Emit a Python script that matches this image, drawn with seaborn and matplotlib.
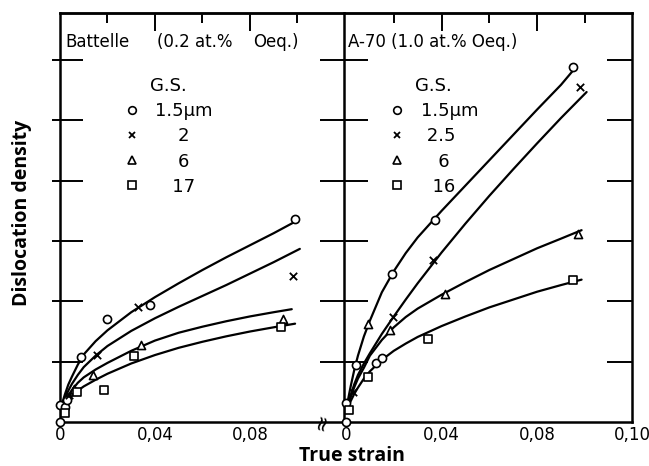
import numpy as np
import pandas as pd
import matplotlib
matplotlib.use("Agg")
import matplotlib.pyplot as plt
import seaborn as sns
from matplotlib.ticker import FixedLocator
from matplotlib.lines import Line2D

# ---- values ----
MARKERS = ["o", "x", "^", "s"]

# left panel: Battelle (0.2 at.% Oeq.)
bat_labels = ["1.5µm", "2", "6", "17"]
bat_pts_x = [
    [0.0, 0.0, 0.002, 0.003, 0.009, 0.020, 0.038, 0.099],
    [0.004, 0.0154, 0.033, 0.098],
    [0.006, 0.014, 0.034, 0.094],
    [0.002, 0.007, 0.0185, 0.031, 0.093],
]
bat_pts_y = [
    [0.0, 0.28, 0.25, 0.37, 1.08, 1.70, 1.94, 3.36],
    [0.45, 1.11, 1.91, 2.42],
    [0.55, 0.78, 1.28, 1.70],
    [0.15, 0.50, 0.53, 1.09, 1.57],
]
# fitted curves
bat_fit_x = [
    [0, 0.001, 0.002, 0.0035, 0.005, 0.0075, 0.01, 0.015, 0.02, 0.03, 0.04, 0.05, 0.06, 0.07, 0.08, 0.09, 0.0985],
    [0, 0.001, 0.002, 0.0035, 0.005, 0.0075, 0.01, 0.015, 0.02, 0.03, 0.04, 0.05, 0.06, 0.07, 0.08, 0.09, 0.101],
    [0, 0.001, 0.002, 0.0035, 0.005, 0.0075, 0.01, 0.015, 0.02, 0.03, 0.04, 0.05, 0.06, 0.07, 0.08, 0.09, 0.0976],
    [0, 0.001, 0.002, 0.0035, 0.005, 0.0075, 0.01, 0.015, 0.02, 0.03, 0.04, 0.05, 0.06, 0.07, 0.08, 0.09, 0.099],
]
bat_fit_y = [
    [0.12, 0.32, 0.45, 0.62, 0.75, 0.95, 1.12, 1.34, 1.52, 1.82, 2.07, 2.30, 2.52, 2.73, 2.93, 3.13, 3.31],
    [0.12, 0.27, 0.38, 0.52, 0.63, 0.78, 0.91, 1.10, 1.26, 1.51, 1.72, 1.91, 2.09, 2.27, 2.46, 2.65, 2.87],
    [0.12, 0.24, 0.33, 0.44, 0.53, 0.65, 0.74, 0.87, 0.98, 1.18, 1.35, 1.48, 1.58, 1.67, 1.75, 1.82, 1.87],
    [0.12, 0.21, 0.28, 0.36, 0.43, 0.52, 0.59, 0.70, 0.80, 0.97, 1.11, 1.23, 1.33, 1.42, 1.50, 1.57, 1.63],
]

# right panel: A-70 (1.0 at.% Oeq.)
a70_labels = ["1.5µm", "2.5", "6", "16"]
a70_pts_x = [
    [0.0, 0.0, 0.0042, 0.0125, 0.015, 0.0191, 0.0372, 0.0951],
    [0.003, 0.0198, 0.0366, 0.098],
    [0.0093, 0.0184, 0.0414, 0.097],
    [0.0014, 0.009, 0.0344, 0.095],
]
a70_pts_y = [
    [0.0, 0.31, 0.94, 0.97, 1.06, 2.46, 3.35, 5.88],
    [0.50, 1.74, 2.69, 5.56],
    [1.62, 1.52, 2.13, 3.12],
    [0.20, 0.75, 1.37, 2.36],
]
a70_fit_x = [
    [0, 0.001, 0.002, 0.0035, 0.005, 0.0075, 0.01, 0.015, 0.02, 0.025, 0.03, 0.04, 0.05, 0.06, 0.07, 0.08, 0.09, 0.0951],
    [0, 0.001, 0.002, 0.0035, 0.005, 0.0075, 0.01, 0.015, 0.02, 0.025, 0.03, 0.04, 0.05, 0.06, 0.07, 0.08, 0.09, 0.1007],
    [0, 0.001, 0.002, 0.0035, 0.005, 0.0075, 0.01, 0.015, 0.02, 0.025, 0.03, 0.04, 0.05, 0.06, 0.07, 0.08, 0.09, 0.0986],
    [0, 0.001, 0.002, 0.0035, 0.005, 0.0075, 0.01, 0.015, 0.02, 0.025, 0.03, 0.04, 0.05, 0.06, 0.07, 0.08, 0.09, 0.0986],
]
a70_fit_y = [
    [0.15, 0.40, 0.60, 0.87, 1.10, 1.42, 1.68, 2.15, 2.50, 2.80, 3.06, 3.50, 3.92, 4.34, 4.76, 5.18, 5.59, 5.83],
    [0.15, 0.30, 0.45, 0.63, 0.78, 0.97, 1.14, 1.46, 1.75, 2.03, 2.30, 2.81, 3.29, 3.75, 4.19, 4.62, 5.04, 5.47],
    [0.15, 0.30, 0.42, 0.58, 0.72, 0.90, 1.10, 1.36, 1.57, 1.74, 1.88, 2.11, 2.32, 2.52, 2.70, 2.88, 3.04, 3.18],
    [0.15, 0.26, 0.35, 0.47, 0.57, 0.72, 0.84, 1.03, 1.18, 1.30, 1.41, 1.59, 1.75, 1.90, 2.03, 2.16, 2.27, 2.36],
]

sns.set_style("white")
plt.rcParams["font.family"] = ["DejaVu Sans"]
plt.rcParams["text.color"] = "black"
plt.rcParams["xtick.color"] = "black"
plt.rcParams["ytick.color"] = "black"
plt.rcParams["legend.labelcolor"] = "black"

fig = plt.figure(figsize=(6.49, 4.66), dpi=100)
ax_l = fig.add_axes([60 / 649, 44 / 466, 284 / 649, 409 / 466])
ax_r = fig.add_axes([344 / 649, 44 / 466, 288 / 649, 409 / 466])

YMAX = 6.78
ytk = [1, 2, 3, 4, 5, 6]


def draw(ax, fx, fy, px, py):
    for i in range(4):
        sns.lineplot(x=fx[i], y=fy[i], ax=ax, color="k", lw=1.6,
                     sort=False, estimator=None)
        if MARKERS[i] == "x":
            sns.scatterplot(x=px[i], y=py[i], ax=ax, marker="x", s=28,
                            color="k", linewidth=1.3, zorder=3, clip_on=False)
        else:
            sns.scatterplot(x=px[i], y=py[i], ax=ax, marker=MARKERS[i], s=34,
                            facecolor="white", edgecolor="k", linewidth=1.2,
                            zorder=3, clip_on=False)


def add_legend(ax, labels, x0):
    handles = []
    for m in MARKERS:
        if m == "x":
            handles.append(Line2D([], [], ls="", marker=m, ms=5, mew=1.3, color="k"))
        else:
            handles.append(Line2D([], [], ls="", marker=m, ms=5.5, mew=1.2,
                                  mfc="white", mec="k"))
    leg = ax.legend(handles, labels, title="G.S.", loc="upper left",
                    bbox_to_anchor=(x0, 0.866), frameon=False, handlelength=1.0,
                    handletextpad=0.8, labelspacing=0.4, borderpad=0,
                    prop={"size": 13}, title_fontproperties={"size": 13})
    leg.get_title().set_color("black")


draw(ax_l, bat_fit_x, bat_fit_y, bat_pts_x, bat_pts_y)
draw(ax_r, a70_fit_x, a70_fit_y, a70_pts_x, a70_pts_y)

f = "\u2007"
add_legend(ax_l, [bat_labels[0], f + "  " + bat_labels[1], f + "  " + bat_labels[2],
                  f + " " + bat_labels[3]], 0.19)
add_legend(ax_r, [a70_labels[0], " " + a70_labels[1], f + " " + a70_labels[2],
                  f + a70_labels[3]], 0.122)

ax_l.set_xlim(0, 0.1196)
ax_r.set_xlim(-0.00084, 0.1197)
for ax in (ax_l, ax_r):
    ax.set_ylim(0, YMAX)
    ax.set_xlabel("")
    ax.set_ylabel("")
    for s in ax.spines.values():
        s.set_linewidth(1.8)
        s.set_color("k")
    ax.yaxis.set_major_locator(FixedLocator(ytk))
    ax.yaxis.set_minor_locator(FixedLocator(ytk))
    ax.yaxis.remove_overlapping_locs = False
    ax.tick_params(axis="y", which="both", labelleft=False, labelright=False,
                   width=1.4, color="k")
    ax.xaxis.set_minor_locator(FixedLocator([0.02, 0.06, 0.10]))
    ax.tick_params(axis="x", which="major", direction="in", length=17,
                   width=1.4, labelsize=12, pad=3, top=False, labelcolor="k")
    ax.tick_params(axis="x", which="minor", direction="in", length=9,
                   width=1.4, top=False)
    top = ax.secondary_xaxis("top")
    top.set_xticks([0.04, 0.08])
    top.xaxis.set_minor_locator(FixedLocator([0.02, 0.06, 0.10]))
    top.tick_params(which="major", direction="in", length=13, width=1.4,
                    labeltop=False)
    top.tick_params(which="minor", direction="in", length=7, width=1.4)
    top.spines["top"].set_linewidth(1.8)

ax_l.set_xticks([0, 0.04, 0.08], ["0", "0,04", "0,08"])
ax_r.set_xticks([0, 0.04, 0.08, 0.1197], ["0", "0,04", "0,08", "0,10"])

# left panel y ticks: long inside, short outside
ax_l.spines["right"].set_visible(False)
ax_l.tick_params(axis="y", which="major", direction="in", length=16.5,
                 left=True, right=False)
ax_l.tick_params(axis="y", which="minor", direction="out", length=5.8,
                 left=True, right=False)
# right panel: shared divider ticks both ways, right edge ticks inward
ax_r.tick_params(axis="y", which="major", direction="inout", length=34.5,
                 left=True, right=False)
ax_r.tick_params(axis="y", which="minor", direction="in", length=18,
                 left=False, right=True)

# panel captions
ax_l.text(0.018, 0.929, "Battelle", transform=ax_l.transAxes, fontsize=12,
          va="center", ha="left")
ax_l.text(0.342, 0.929, "(0.2 at.%", transform=ax_l.transAxes, fontsize=12,
          va="center", ha="left")
ax_l.text(0.68, 0.929, "Oeq.)", transform=ax_l.transAxes, fontsize=12,
          va="center", ha="left")
ax_r.text(0.014, 0.929, "A-70 (1.0 at.% Oeq.)", transform=ax_r.transAxes,
          fontsize=12, va="center", ha="left")

# axis-break mark on the shared baseline
ax_l.text(0.1103, 0, "≈", fontsize=15, rotation=75, ha="center", va="center",
          clip_on=False)

fig.text(22 / 649, 1 - 213 / 466, "Dislocation density", rotation=90,
         ha="center", va="center", fontsize=14, fontweight="bold",
         family="Open Sans")
fig.text(352 / 649, 1 - 461 / 466, "True strain", ha="center", va="baseline",
         fontsize=14, fontweight="bold", family="Open Sans")

fig.savefig("out.png", dpi=100)
